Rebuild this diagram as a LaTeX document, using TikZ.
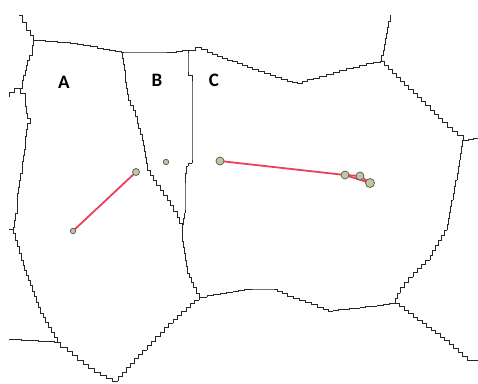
\documentclass[tikz,border=0pt]{standalone}
\usepackage{fontspec}
\setmainfont{Carlito}
\usetikzlibrary{calc,backgrounds}
\definecolor{dotfill}{HTML}{C4C3A4}
\definecolor{dotline}{HTML}{55564A}
\definecolor{redline}{HTML}{EC4058}
\definecolor{bdcol}{HTML}{262626}
\tikzset{
  bd/.style={draw=bdcol, line width=0.95pt, line join=miter},
  dotS/.style={circle, draw=dotline, fill=dotfill, line width=0.7pt, inner sep=0pt, minimum size=5.5pt},
  dotL/.style={circle, draw=dotline, fill=dotfill, line width=0.7pt, inner sep=0pt, minimum size=8pt},
  link/.style={draw=redline, line width=1.8pt},
  lab/.style={font=\fontsize{19}{19}\selectfont\bfseries, text=black}
}
\newcommand\bdpoly[1]{%
  \foreach \ax/\ay [count=\k, remember=\ax as \bx (initially 0), remember=\ay as \by (initially 0)] in {#1}{%
    \ifnum\k>1
      \pgfmathtruncatemacro\ns{max(1,round(veclen(\ax-\bx,\ay-\by)/6))}%
      \draw[bd] (\bx,\by) \foreach \i in {1,...,\ns} { -| ($(\bx,\by)!\i/\ns!(\ax,\ay)$) };
    \fi}}
\begin{document}
\begin{tikzpicture}[x=1pt,y=-1pt]
\useasboundingbox (0,0) rectangle (478,383);
% boundaries
\bdpoly{19/15, 22/22, 26/30, 30/35, 33/40}
\bdpoly{33/40, 57/42, 77/44, 97/48, 121/52, 170/52, 188/50}
\bdpoly{188/50, 195/47, 207/52, 227/60, 247/67, 270/75, 287/81, 297/83, 313/78, 333/72, 353/67, 373/62, 380/61}
\bdpoly{380/61, 383/50, 386/33, 390/15}
\bdpoly{380/61, 413/93, 447/127, 463/140}
\bdpoly{463/140, 478/138}
\bdpoly{463/140, 460/160, 457/180, 453/200, 447/230, 430/260, 413/277, 400/293, 395/303}
\bdpoly{395/303, 413/317, 440/337, 467/360, 478/361}
\bdpoly{395/303, 377/306, 360/308, 333/311, 323/307, 293/296, 277/289, 250/289, 233/292, 207/297, 199/300}
\bdpoly{199/300, 173/323, 147/350, 118/381, 100/372, 83/360, 67/347, 60/342}
\bdpoly{60/342, 27/340, 9/339}
\bdpoly{60/342, 43/313, 30/280, 23/260, 17/240, 13/227, 17/207, 18/187, 22/167, 25/143, 27/123, 30/118, 27/113, 25/93, 20/88, 22/80, 25/70, 27/60, 32/50, 33/40}
\bdpoly{13/229, 9/230}
\bdpoly{20/88, 9/97}
\bdpoly{121/52, 125/77, 128/100, 133/110, 137/123, 142/140, 145/157, 147/170, 153/180, 160/190, 167/200, 177/217, 182/230}
\bdpoly{188/50, 188/75, 192/78, 192/163, 188/166, 185/180, 185/213, 182/230}
\bdpoly{182/230, 183/247, 185/260, 187/273, 193/287, 199/300}
% labels
\node[lab] (la) at (64,82) {A};
\node[lab] (lb) at (157,80) {B};
\node[lab] (lc) at (214,80) {C};
% dots
\node[dotS] (a1) at (73,231) {};
\node[dotL, minimum size=7pt] (a2) at (136,172) {};
\node[dotS] (b1) at (166,162) {};
\node[dotL] (c1) at (220,161) {};
\node[dotL] (c2) at (345,175) {};
\node[dotL] (c3) at (360,176) {};
\node[dotL, minimum size=9pt] (c4) at (370,183) {};
% links
\begin{pgfonlayer}{background}
\draw[link] (a1.center) -- (a2.center);
\draw[link] (c1.center) -- (c2.center) -- (c3.center) -- (c4.center);
\draw[link] (c2.center) -- (c4.center);
\end{pgfonlayer}
\end{tikzpicture}
\end{document}
